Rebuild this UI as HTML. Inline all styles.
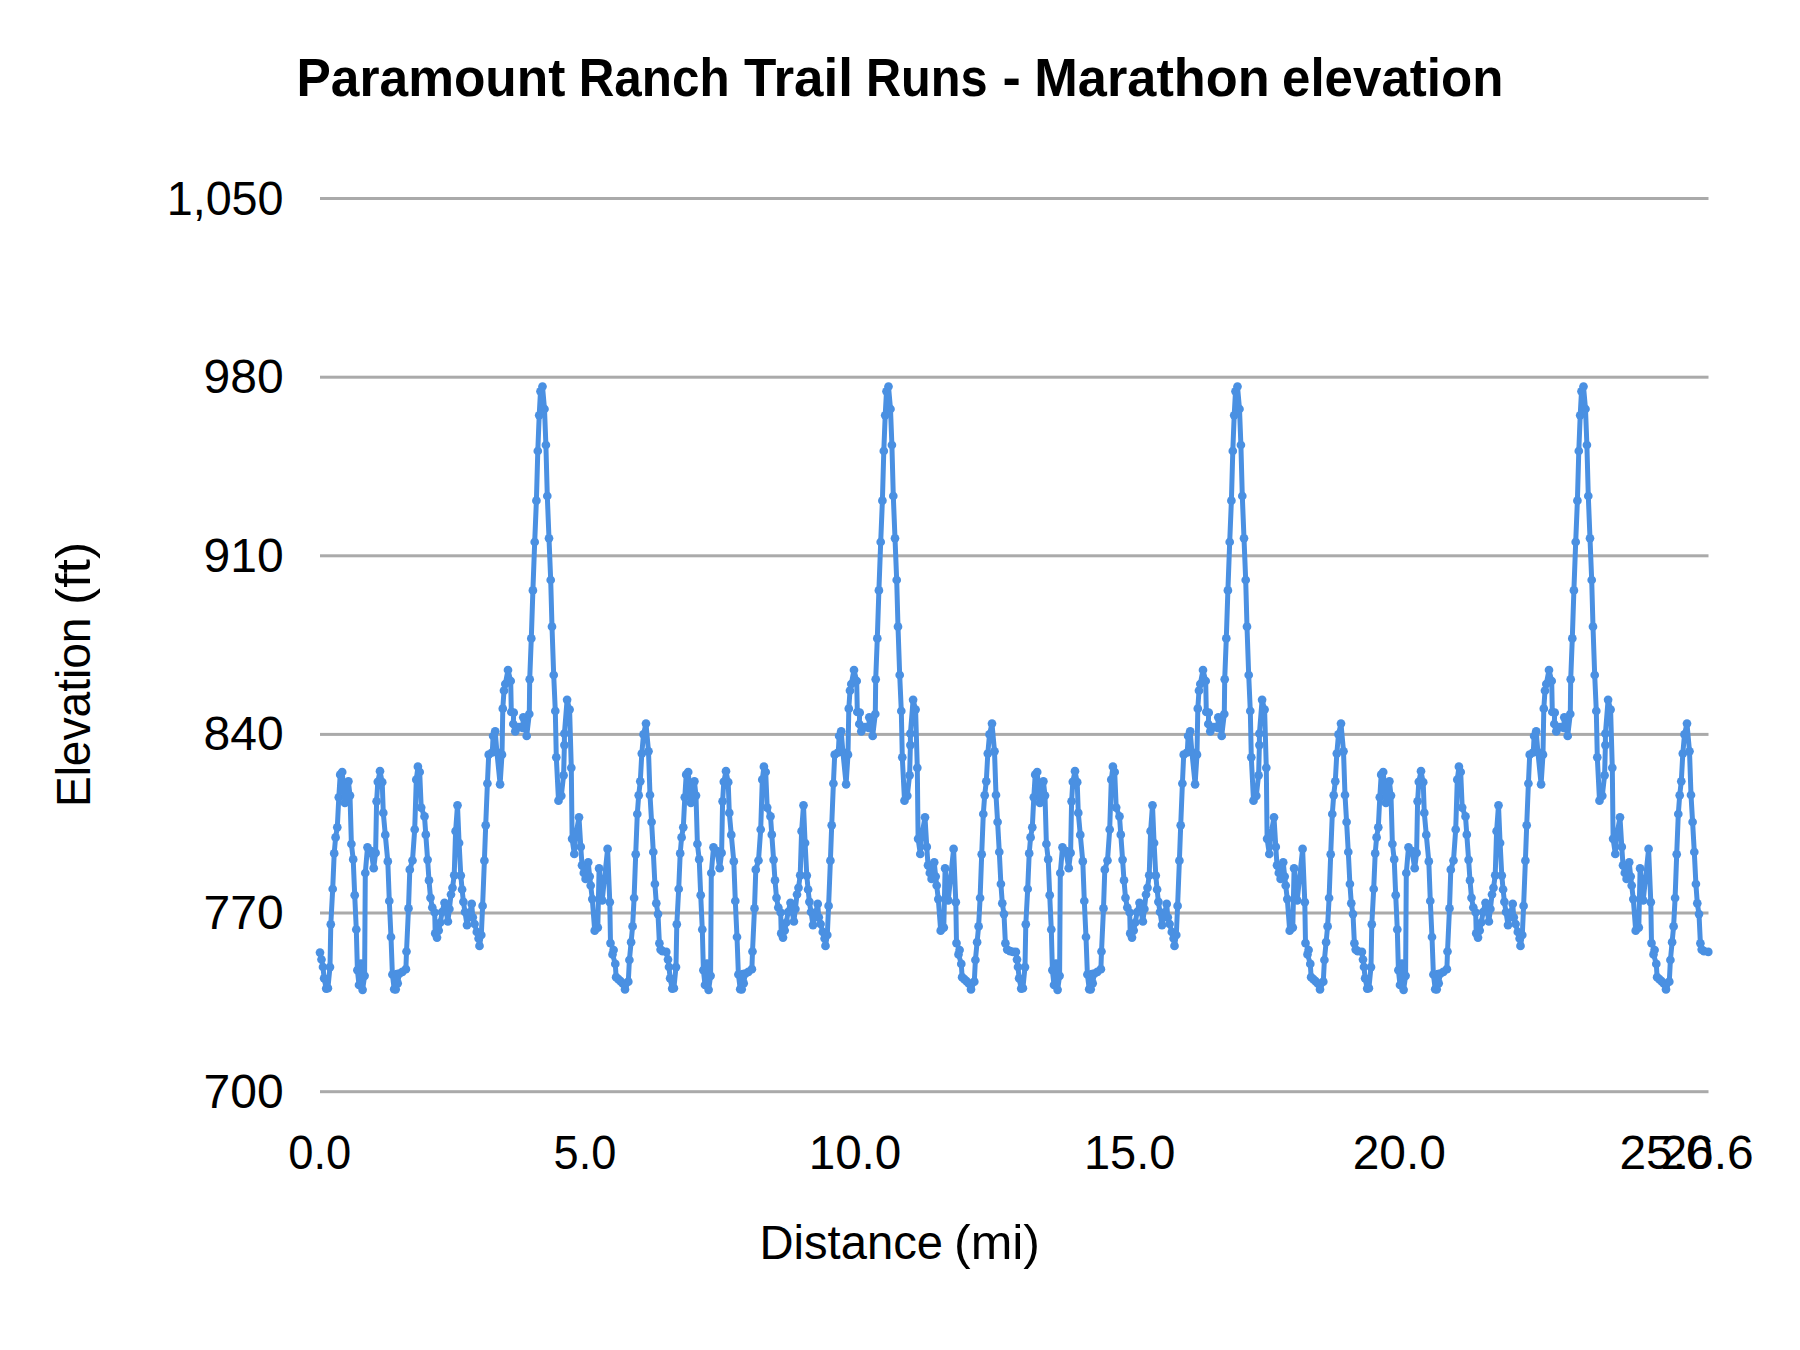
<!DOCTYPE html>
<html><head><meta charset="utf-8"><title>Paramount Ranch Trail Runs - Marathon elevation</title>
<style>
html,body{margin:0;padding:0;background:#fff;}
svg{display:block;}
text{font-family:"Liberation Sans",sans-serif;fill:#000;}
.title{font-weight:bold;font-size:54px;}
.yl,.xl,.ax{font-size:48px;}
</style></head><body>
<svg width="1800" height="1350" viewBox="0 0 1800 1350">
<rect width="1800" height="1350" fill="#fff"/>
<text class="title" y="96"><tspan x="296.5" textLength="268.9" lengthAdjust="spacingAndGlyphs">Paramount</tspan> <tspan x="578.7" textLength="150.9" lengthAdjust="spacingAndGlyphs">Ranch</tspan> <tspan x="744.0" textLength="109.0" lengthAdjust="spacingAndGlyphs">Trail</tspan> <tspan x="865.9" textLength="121.7" lengthAdjust="spacingAndGlyphs">Runs</tspan> <tspan x="1002.5" textLength="18.3" lengthAdjust="spacingAndGlyphs">-</tspan> <tspan x="1034.3" textLength="235.4" lengthAdjust="spacingAndGlyphs">Marathon</tspan> <tspan x="1282.0" textLength="221.4" lengthAdjust="spacingAndGlyphs">elevation</tspan></text>
<rect x="320" y="197.0" width="1388.5" height="3" fill="#aaaaaa"/><rect x="320" y="375.7" width="1388.5" height="3" fill="#aaaaaa"/><rect x="320" y="554.3" width="1388.5" height="3" fill="#aaaaaa"/><rect x="320" y="732.9" width="1388.5" height="3" fill="#aaaaaa"/><rect x="320" y="911.5" width="1388.5" height="3" fill="#aaaaaa"/><rect x="320" y="1090.2" width="1388.5" height="3" fill="#aaaaaa"/>
<text class="yl" x="283.6" y="214.5" text-anchor="end" textLength="116.9" lengthAdjust="spacingAndGlyphs">1,050</text><text class="yl" x="283.6" y="393.2" text-anchor="end">980</text><text class="yl" x="283.6" y="571.8" text-anchor="end">910</text><text class="yl" x="283.6" y="750.4" text-anchor="end">840</text><text class="yl" x="283.6" y="929.0" text-anchor="end">770</text><text class="yl" x="283.6" y="1107.7" text-anchor="end">700</text>
<text class="xl" x="319.8" y="1169" text-anchor="middle" textLength="63.0" lengthAdjust="spacingAndGlyphs">0.0</text><text class="xl" x="585.0" y="1169" text-anchor="middle" textLength="62.8" lengthAdjust="spacingAndGlyphs">5.0</text><text class="xl" x="855.0" y="1169" text-anchor="middle" textLength="92.7" lengthAdjust="spacingAndGlyphs">10.0</text><text class="xl" x="1129.6" y="1169" text-anchor="middle" textLength="91.4" lengthAdjust="spacingAndGlyphs">15.0</text><text class="xl" x="1399.3" y="1169" text-anchor="middle" textLength="93.2" lengthAdjust="spacingAndGlyphs">20.0</text><text class="xl" x="1666" y="1169" text-anchor="middle" textLength="93.2" lengthAdjust="spacingAndGlyphs">25.0</text><text class="xl" x="1707" y="1169" text-anchor="middle" textLength="93.2" lengthAdjust="spacingAndGlyphs">26.6</text>
<text class="ax" y="1259"><tspan x="759.5" textLength="183.5" lengthAdjust="spacingAndGlyphs">Distance</tspan> <tspan x="954" textLength="86" lengthAdjust="spacingAndGlyphs">(mi)</tspan></text>
<text class="ax" transform="translate(90,674.4) rotate(-90)"><tspan x="-132.7" textLength="189.5" lengthAdjust="spacingAndGlyphs">Elevation</tspan> <tspan x="69.5" textLength="63" lengthAdjust="spacingAndGlyphs">(ft)</tspan></text>
<g fill="#4a90e2"><circle cx="320.0" cy="952.6" r="4.35"/><circle cx="321.5" cy="959.5" r="4.35"/><circle cx="323.0" cy="967.0" r="4.35"/><circle cx="324.1" cy="978.3" r="4.35"/><circle cx="326.2" cy="988.6" r="4.35"/><circle cx="327.9" cy="988.2" r="4.35"/><circle cx="330.0" cy="967.1" r="4.35"/><circle cx="330.8" cy="924.3" r="4.35"/><circle cx="332.7" cy="889.0" r="4.35"/><circle cx="334.2" cy="853.4" r="4.35"/><circle cx="335.6" cy="837.4" r="4.35"/><circle cx="337.3" cy="827.3" r="4.35"/><circle cx="338.8" cy="797.3" r="4.35"/><circle cx="340.2" cy="774.7" r="4.35"/><circle cx="342.2" cy="772.0" r="4.35"/><circle cx="344.9" cy="803.0" r="4.35"/><circle cx="348.4" cy="781.3" r="4.35"/><circle cx="350.0" cy="795.6" r="4.35"/><circle cx="351.4" cy="844.0" r="4.35"/><circle cx="353.2" cy="859.4" r="4.35"/><circle cx="354.7" cy="895.2" r="4.35"/><circle cx="356.3" cy="929.5" r="4.35"/><circle cx="357.4" cy="970.2" r="4.35"/><circle cx="359.0" cy="985.0" r="4.35"/><circle cx="361.0" cy="963.5" r="4.35"/><circle cx="362.6" cy="989.8" r="4.35"/><circle cx="364.6" cy="975.8" r="4.35"/><circle cx="365.3" cy="873.0" r="4.35"/><circle cx="367.5" cy="847.3" r="4.35"/><circle cx="371.0" cy="851.0" r="4.35"/><circle cx="373.7" cy="868.2" r="4.35"/><circle cx="375.6" cy="852.9" r="4.35"/><circle cx="376.6" cy="801.3" r="4.35"/><circle cx="377.8" cy="781.8" r="4.35"/><circle cx="380.0" cy="771.2" r="4.35"/><circle cx="382.2" cy="782.2" r="4.35"/><circle cx="383.3" cy="812.9" r="4.35"/><circle cx="385.3" cy="834.9" r="4.35"/><circle cx="387.8" cy="861.4" r="4.35"/><circle cx="389.3" cy="901.0" r="4.35"/><circle cx="391.0" cy="937.0" r="4.35"/><circle cx="392.4" cy="974.5" r="4.35"/><circle cx="394.2" cy="989.2" r="4.35"/><circle cx="395.7" cy="989.3" r="4.35"/><circle cx="396.8" cy="974.1" r="4.35"/><circle cx="397.7" cy="983.3" r="4.35"/><circle cx="399.3" cy="973.7" r="4.35"/><circle cx="402.4" cy="971.8" r="4.35"/><circle cx="405.9" cy="969.2" r="4.35"/><circle cx="406.5" cy="951.5" r="4.35"/><circle cx="408.5" cy="908.4" r="4.35"/><circle cx="409.8" cy="869.7" r="4.35"/><circle cx="412.5" cy="860.5" r="4.35"/><circle cx="414.7" cy="829.5" r="4.35"/><circle cx="416.3" cy="779.7" r="4.35"/><circle cx="417.9" cy="766.7" r="4.35"/><circle cx="419.7" cy="772.0" r="4.35"/><circle cx="421.2" cy="807.6" r="4.35"/><circle cx="424.5" cy="816.4" r="4.35"/><circle cx="425.8" cy="834.7" r="4.35"/><circle cx="427.6" cy="859.8" r="4.35"/><circle cx="429.0" cy="880.4" r="4.35"/><circle cx="430.5" cy="897.8" r="4.35"/><circle cx="432.3" cy="907.5" r="4.35"/><circle cx="434.7" cy="912.5" r="4.35"/><circle cx="435.2" cy="933.4" r="4.35"/><circle cx="437.0" cy="937.6" r="4.35"/><circle cx="438.7" cy="930.5" r="4.35"/><circle cx="440.3" cy="922.5" r="4.35"/><circle cx="442.1" cy="912.0" r="4.35"/><circle cx="444.5" cy="902.8" r="4.35"/><circle cx="447.9" cy="921.5" r="4.35"/><circle cx="449.4" cy="909.0" r="4.35"/><circle cx="451.0" cy="894.5" r="4.35"/><circle cx="452.5" cy="887.8" r="4.35"/><circle cx="454.2" cy="875.3" r="4.35"/><circle cx="455.6" cy="831.2" r="4.35"/><circle cx="457.5" cy="805.3" r="4.35"/><circle cx="459.1" cy="843.0" r="4.35"/><circle cx="460.8" cy="875.6" r="4.35"/><circle cx="462.1" cy="889.5" r="4.35"/><circle cx="463.4" cy="901.8" r="4.35"/><circle cx="465.0" cy="912.0" r="4.35"/><circle cx="467.0" cy="925.1" r="4.35"/><circle cx="471.7" cy="903.9" r="4.35"/><circle cx="472.8" cy="917.3" r="4.35"/><circle cx="474.6" cy="924.0" r="4.35"/><circle cx="476.8" cy="932.0" r="4.35"/><circle cx="478.6" cy="938.5" r="4.35"/><circle cx="479.5" cy="945.9" r="4.35"/><circle cx="481.3" cy="935.0" r="4.35"/><circle cx="482.6" cy="905.9" r="4.35"/><circle cx="484.4" cy="860.7" r="4.35"/><circle cx="485.7" cy="825.3" r="4.35"/><circle cx="487.4" cy="783.5" r="4.35"/><circle cx="488.7" cy="754.7" r="4.35"/><circle cx="492.3" cy="752.3" r="4.35"/><circle cx="493.1" cy="736.0" r="4.35"/><circle cx="495.2" cy="731.3" r="4.35"/><circle cx="496.9" cy="752.0" r="4.35"/><circle cx="500.1" cy="784.3" r="4.35"/><circle cx="502.0" cy="754.7" r="4.35"/><circle cx="502.8" cy="708.7" r="4.35"/><circle cx="504.0" cy="690.7" r="4.35"/><circle cx="505.3" cy="684.0" r="4.35"/><circle cx="508.0" cy="670.0" r="4.35"/><circle cx="510.7" cy="681.0" r="4.35"/><circle cx="511.3" cy="712.0" r="4.35"/><circle cx="513.7" cy="712.7" r="4.35"/><circle cx="513.3" cy="724.0" r="4.35"/><circle cx="515.3" cy="731.3" r="4.35"/><circle cx="519.0" cy="727.0" r="4.35"/><circle cx="522.7" cy="728.0" r="4.35"/><circle cx="523.3" cy="717.3" r="4.35"/><circle cx="526.7" cy="736.0" r="4.35"/><circle cx="529.3" cy="714.0" r="4.35"/><circle cx="529.7" cy="679.3" r="4.35"/><circle cx="531.3" cy="638.4" r="4.35"/><circle cx="532.9" cy="590.4" r="4.35"/><circle cx="534.7" cy="542.0" r="4.35"/><circle cx="536.4" cy="500.7" r="4.35"/><circle cx="537.8" cy="451.0" r="4.35"/><circle cx="539.2" cy="415.3" r="4.35"/><circle cx="540.5" cy="391.3" r="4.35"/><circle cx="542.5" cy="386.5" r="4.35"/><circle cx="544.5" cy="409.0" r="4.35"/><circle cx="545.9" cy="445.0" r="4.35"/><circle cx="547.3" cy="496.0" r="4.35"/><circle cx="549.0" cy="538.3" r="4.35"/><circle cx="550.7" cy="580.0" r="4.35"/><circle cx="552.0" cy="626.7" r="4.35"/><circle cx="553.7" cy="675.0" r="4.35"/><circle cx="555.3" cy="711.0" r="4.35"/><circle cx="556.3" cy="757.3" r="4.35"/><circle cx="558.5" cy="800.7" r="4.35"/><circle cx="561.3" cy="795.8" r="4.35"/><circle cx="563.6" cy="775.3" r="4.35"/><circle cx="564.4" cy="745.1" r="4.35"/><circle cx="564.4" cy="733.6" r="4.35"/><circle cx="567.1" cy="699.8" r="4.35"/><circle cx="569.6" cy="709.6" r="4.35"/><circle cx="571.3" cy="767.8" r="4.35"/><circle cx="572.1" cy="838.8" r="4.35"/><circle cx="574.3" cy="854.0" r="4.35"/><circle cx="575.7" cy="836.0" r="4.35"/><circle cx="579.0" cy="817.3" r="4.35"/><circle cx="580.8" cy="846.9" r="4.35"/><circle cx="582.0" cy="865.3" r="4.35"/><circle cx="583.8" cy="873.0" r="4.35"/><circle cx="585.6" cy="878.9" r="4.35"/><circle cx="588.2" cy="862.3" r="4.35"/><circle cx="589.7" cy="876.5" r="4.35"/><circle cx="590.7" cy="885.5" r="4.35"/><circle cx="592.3" cy="899.1" r="4.35"/><circle cx="594.7" cy="930.7" r="4.35"/><circle cx="597.8" cy="927.6" r="4.35"/><circle cx="599.1" cy="868.4" r="4.35"/><circle cx="602.2" cy="900.4" r="4.35"/><circle cx="607.6" cy="848.9" r="4.35"/><circle cx="609.8" cy="902.2" r="4.35"/><circle cx="610.5" cy="943.1" r="4.35"/><circle cx="613.6" cy="950.0" r="4.35"/><circle cx="612.5" cy="954.4" r="4.35"/><circle cx="615.3" cy="963.9" r="4.35"/><circle cx="616.1" cy="977.2" r="4.35"/><circle cx="618.3" cy="979.2" r="4.35"/><circle cx="620.5" cy="981.2" r="4.35"/><circle cx="622.7" cy="983.4" r="4.35"/><circle cx="625.0" cy="989.4" r="4.35"/><circle cx="628.3" cy="981.7" r="4.35"/><circle cx="629.4" cy="960.0" r="4.35"/><circle cx="631.1" cy="942.2" r="4.35"/><circle cx="632.6" cy="926.4" r="4.35"/><circle cx="634.1" cy="898.0" r="4.35"/><circle cx="635.7" cy="854.3" r="4.35"/><circle cx="637.3" cy="814.0" r="4.35"/><circle cx="638.7" cy="795.3" r="4.35"/><circle cx="640.3" cy="781.3" r="4.35"/><circle cx="641.8" cy="753.6" r="4.35"/><circle cx="643.5" cy="734.4" r="4.35"/><circle cx="646.0" cy="723.6" r="4.35"/><circle cx="648.5" cy="751.3" r="4.35"/><circle cx="650.0" cy="795.0" r="4.35"/><circle cx="651.6" cy="822.0" r="4.35"/><circle cx="653.3" cy="852.0" r="4.35"/><circle cx="654.9" cy="884.0" r="4.35"/><circle cx="656.3" cy="903.3" r="4.35"/><circle cx="658.0" cy="914.1" r="4.35"/><circle cx="659.4" cy="943.3" r="4.35"/><circle cx="660.6" cy="949.6" r="4.35"/><circle cx="662.5" cy="951.2" r="4.35"/><circle cx="666.3" cy="951.9" r="4.35"/><circle cx="668.0" cy="959.6" r="4.35"/><circle cx="669.0" cy="967.0" r="4.35"/><circle cx="670.1" cy="978.3" r="4.35"/><circle cx="672.2" cy="988.6" r="4.35"/><circle cx="673.9" cy="988.2" r="4.35"/><circle cx="676.0" cy="967.1" r="4.35"/><circle cx="676.8" cy="924.3" r="4.35"/><circle cx="678.7" cy="889.0" r="4.35"/><circle cx="680.2" cy="853.4" r="4.35"/><circle cx="681.6" cy="837.4" r="4.35"/><circle cx="683.3" cy="827.3" r="4.35"/><circle cx="684.8" cy="797.3" r="4.35"/><circle cx="686.2" cy="774.7" r="4.35"/><circle cx="688.2" cy="772.0" r="4.35"/><circle cx="690.9" cy="803.0" r="4.35"/><circle cx="694.4" cy="781.3" r="4.35"/><circle cx="696.0" cy="795.6" r="4.35"/><circle cx="697.4" cy="844.0" r="4.35"/><circle cx="699.2" cy="859.4" r="4.35"/><circle cx="700.7" cy="895.2" r="4.35"/><circle cx="702.3" cy="929.5" r="4.35"/><circle cx="703.4" cy="970.2" r="4.35"/><circle cx="705.0" cy="985.0" r="4.35"/><circle cx="707.0" cy="963.5" r="4.35"/><circle cx="708.6" cy="989.8" r="4.35"/><circle cx="710.6" cy="975.8" r="4.35"/><circle cx="711.3" cy="873.0" r="4.35"/><circle cx="713.5" cy="847.3" r="4.35"/><circle cx="717.0" cy="851.0" r="4.35"/><circle cx="719.7" cy="868.2" r="4.35"/><circle cx="721.6" cy="852.9" r="4.35"/><circle cx="722.6" cy="801.3" r="4.35"/><circle cx="723.8" cy="781.8" r="4.35"/><circle cx="726.0" cy="771.2" r="4.35"/><circle cx="728.2" cy="782.2" r="4.35"/><circle cx="729.3" cy="812.9" r="4.35"/><circle cx="731.3" cy="834.9" r="4.35"/><circle cx="733.8" cy="861.4" r="4.35"/><circle cx="735.3" cy="901.0" r="4.35"/><circle cx="737.0" cy="937.0" r="4.35"/><circle cx="738.4" cy="974.5" r="4.35"/><circle cx="740.2" cy="989.2" r="4.35"/><circle cx="741.7" cy="989.3" r="4.35"/><circle cx="742.8" cy="974.1" r="4.35"/><circle cx="743.7" cy="983.3" r="4.35"/><circle cx="745.3" cy="973.7" r="4.35"/><circle cx="748.4" cy="971.8" r="4.35"/><circle cx="751.9" cy="969.2" r="4.35"/><circle cx="752.5" cy="951.5" r="4.35"/><circle cx="754.5" cy="908.4" r="4.35"/><circle cx="755.8" cy="869.7" r="4.35"/><circle cx="758.5" cy="860.5" r="4.35"/><circle cx="760.7" cy="829.5" r="4.35"/><circle cx="762.3" cy="779.7" r="4.35"/><circle cx="763.9" cy="766.7" r="4.35"/><circle cx="765.7" cy="772.0" r="4.35"/><circle cx="767.2" cy="807.6" r="4.35"/><circle cx="770.5" cy="816.4" r="4.35"/><circle cx="771.8" cy="834.7" r="4.35"/><circle cx="773.6" cy="859.8" r="4.35"/><circle cx="775.0" cy="880.4" r="4.35"/><circle cx="776.5" cy="897.8" r="4.35"/><circle cx="778.3" cy="907.5" r="4.35"/><circle cx="780.7" cy="912.5" r="4.35"/><circle cx="781.2" cy="933.4" r="4.35"/><circle cx="783.0" cy="937.6" r="4.35"/><circle cx="784.7" cy="930.5" r="4.35"/><circle cx="786.3" cy="922.5" r="4.35"/><circle cx="788.1" cy="912.0" r="4.35"/><circle cx="790.5" cy="902.8" r="4.35"/><circle cx="793.9" cy="921.5" r="4.35"/><circle cx="795.4" cy="909.0" r="4.35"/><circle cx="797.0" cy="894.5" r="4.35"/><circle cx="798.5" cy="887.8" r="4.35"/><circle cx="800.2" cy="875.3" r="4.35"/><circle cx="801.6" cy="831.2" r="4.35"/><circle cx="803.5" cy="805.3" r="4.35"/><circle cx="805.1" cy="843.0" r="4.35"/><circle cx="806.8" cy="875.6" r="4.35"/><circle cx="808.1" cy="889.5" r="4.35"/><circle cx="809.4" cy="901.8" r="4.35"/><circle cx="811.0" cy="912.0" r="4.35"/><circle cx="813.0" cy="925.1" r="4.35"/><circle cx="817.7" cy="903.9" r="4.35"/><circle cx="818.8" cy="917.3" r="4.35"/><circle cx="820.6" cy="924.0" r="4.35"/><circle cx="822.8" cy="932.0" r="4.35"/><circle cx="824.6" cy="938.5" r="4.35"/><circle cx="825.5" cy="945.9" r="4.35"/><circle cx="827.3" cy="935.0" r="4.35"/><circle cx="828.6" cy="905.9" r="4.35"/><circle cx="830.4" cy="860.7" r="4.35"/><circle cx="831.7" cy="825.3" r="4.35"/><circle cx="833.4" cy="783.5" r="4.35"/><circle cx="834.7" cy="754.7" r="4.35"/><circle cx="838.3" cy="752.3" r="4.35"/><circle cx="839.1" cy="736.0" r="4.35"/><circle cx="841.2" cy="731.3" r="4.35"/><circle cx="842.9" cy="752.0" r="4.35"/><circle cx="846.1" cy="784.3" r="4.35"/><circle cx="848.0" cy="754.7" r="4.35"/><circle cx="848.8" cy="708.7" r="4.35"/><circle cx="850.0" cy="690.7" r="4.35"/><circle cx="851.3" cy="684.0" r="4.35"/><circle cx="854.0" cy="670.0" r="4.35"/><circle cx="856.7" cy="681.0" r="4.35"/><circle cx="857.3" cy="712.0" r="4.35"/><circle cx="859.7" cy="712.7" r="4.35"/><circle cx="859.3" cy="724.0" r="4.35"/><circle cx="861.3" cy="731.3" r="4.35"/><circle cx="865.0" cy="727.0" r="4.35"/><circle cx="868.7" cy="728.0" r="4.35"/><circle cx="869.3" cy="717.3" r="4.35"/><circle cx="872.7" cy="736.0" r="4.35"/><circle cx="875.3" cy="714.0" r="4.35"/><circle cx="875.7" cy="679.3" r="4.35"/><circle cx="877.3" cy="638.4" r="4.35"/><circle cx="878.9" cy="590.4" r="4.35"/><circle cx="880.7" cy="542.0" r="4.35"/><circle cx="882.4" cy="500.7" r="4.35"/><circle cx="883.8" cy="451.0" r="4.35"/><circle cx="885.2" cy="415.3" r="4.35"/><circle cx="886.5" cy="391.3" r="4.35"/><circle cx="888.5" cy="386.5" r="4.35"/><circle cx="890.5" cy="409.0" r="4.35"/><circle cx="891.9" cy="445.0" r="4.35"/><circle cx="893.3" cy="496.0" r="4.35"/><circle cx="895.0" cy="538.3" r="4.35"/><circle cx="896.7" cy="580.0" r="4.35"/><circle cx="898.0" cy="626.7" r="4.35"/><circle cx="899.7" cy="675.0" r="4.35"/><circle cx="901.3" cy="711.0" r="4.35"/><circle cx="902.3" cy="757.3" r="4.35"/><circle cx="904.5" cy="800.7" r="4.35"/><circle cx="907.3" cy="795.8" r="4.35"/><circle cx="909.6" cy="775.3" r="4.35"/><circle cx="910.4" cy="745.1" r="4.35"/><circle cx="910.4" cy="733.6" r="4.35"/><circle cx="913.1" cy="699.8" r="4.35"/><circle cx="915.6" cy="709.6" r="4.35"/><circle cx="917.3" cy="767.8" r="4.35"/><circle cx="918.1" cy="838.8" r="4.35"/><circle cx="920.3" cy="854.0" r="4.35"/><circle cx="921.7" cy="836.0" r="4.35"/><circle cx="925.0" cy="817.3" r="4.35"/><circle cx="926.8" cy="846.9" r="4.35"/><circle cx="928.0" cy="865.3" r="4.35"/><circle cx="929.8" cy="873.0" r="4.35"/><circle cx="931.6" cy="878.9" r="4.35"/><circle cx="934.2" cy="862.3" r="4.35"/><circle cx="935.7" cy="876.5" r="4.35"/><circle cx="936.7" cy="885.5" r="4.35"/><circle cx="938.3" cy="899.1" r="4.35"/><circle cx="940.7" cy="930.7" r="4.35"/><circle cx="943.8" cy="927.6" r="4.35"/><circle cx="945.1" cy="868.4" r="4.35"/><circle cx="948.2" cy="900.4" r="4.35"/><circle cx="953.6" cy="848.9" r="4.35"/><circle cx="955.8" cy="902.2" r="4.35"/><circle cx="956.5" cy="943.1" r="4.35"/><circle cx="959.6" cy="950.0" r="4.35"/><circle cx="958.5" cy="954.4" r="4.35"/><circle cx="961.3" cy="963.9" r="4.35"/><circle cx="962.1" cy="977.2" r="4.35"/><circle cx="964.3" cy="979.2" r="4.35"/><circle cx="966.5" cy="981.2" r="4.35"/><circle cx="968.7" cy="983.4" r="4.35"/><circle cx="971.0" cy="989.4" r="4.35"/><circle cx="974.3" cy="981.7" r="4.35"/><circle cx="975.4" cy="960.0" r="4.35"/><circle cx="977.1" cy="942.2" r="4.35"/><circle cx="978.6" cy="926.4" r="4.35"/><circle cx="980.1" cy="898.0" r="4.35"/><circle cx="981.7" cy="854.3" r="4.35"/><circle cx="983.3" cy="814.0" r="4.35"/><circle cx="984.7" cy="795.3" r="4.35"/><circle cx="986.3" cy="781.3" r="4.35"/><circle cx="987.8" cy="753.6" r="4.35"/><circle cx="989.5" cy="734.4" r="4.35"/><circle cx="992.0" cy="723.6" r="4.35"/><circle cx="994.5" cy="751.3" r="4.35"/><circle cx="996.0" cy="795.0" r="4.35"/><circle cx="997.6" cy="822.0" r="4.35"/><circle cx="999.3" cy="852.0" r="4.35"/><circle cx="1000.9" cy="884.0" r="4.35"/><circle cx="1002.3" cy="903.3" r="4.35"/><circle cx="1004.0" cy="914.1" r="4.35"/><circle cx="1005.4" cy="943.3" r="4.35"/><circle cx="1007.2" cy="949.6" r="4.35"/><circle cx="1010.1" cy="951.2" r="4.35"/><circle cx="1013.0" cy="951.9" r="4.35"/><circle cx="1015.9" cy="951.9" r="4.35"/><circle cx="1017.0" cy="959.6" r="4.35"/><circle cx="1018.0" cy="967.0" r="4.35"/><circle cx="1019.1" cy="978.3" r="4.35"/><circle cx="1021.2" cy="988.6" r="4.35"/><circle cx="1022.9" cy="988.2" r="4.35"/><circle cx="1025.0" cy="967.1" r="4.35"/><circle cx="1025.8" cy="924.3" r="4.35"/><circle cx="1027.7" cy="889.0" r="4.35"/><circle cx="1029.2" cy="853.4" r="4.35"/><circle cx="1030.6" cy="837.4" r="4.35"/><circle cx="1032.3" cy="827.3" r="4.35"/><circle cx="1033.8" cy="797.3" r="4.35"/><circle cx="1035.2" cy="774.7" r="4.35"/><circle cx="1037.2" cy="772.0" r="4.35"/><circle cx="1039.9" cy="803.0" r="4.35"/><circle cx="1043.4" cy="781.3" r="4.35"/><circle cx="1045.0" cy="795.6" r="4.35"/><circle cx="1046.4" cy="844.0" r="4.35"/><circle cx="1048.2" cy="859.4" r="4.35"/><circle cx="1049.7" cy="895.2" r="4.35"/><circle cx="1051.3" cy="929.5" r="4.35"/><circle cx="1052.4" cy="970.2" r="4.35"/><circle cx="1054.0" cy="985.0" r="4.35"/><circle cx="1056.0" cy="963.5" r="4.35"/><circle cx="1057.6" cy="989.8" r="4.35"/><circle cx="1059.6" cy="975.8" r="4.35"/><circle cx="1060.3" cy="873.0" r="4.35"/><circle cx="1062.5" cy="847.3" r="4.35"/><circle cx="1066.0" cy="851.0" r="4.35"/><circle cx="1068.7" cy="868.2" r="4.35"/><circle cx="1070.6" cy="852.9" r="4.35"/><circle cx="1071.6" cy="801.3" r="4.35"/><circle cx="1072.8" cy="781.8" r="4.35"/><circle cx="1075.0" cy="771.2" r="4.35"/><circle cx="1077.2" cy="782.2" r="4.35"/><circle cx="1078.3" cy="812.9" r="4.35"/><circle cx="1080.3" cy="834.9" r="4.35"/><circle cx="1082.8" cy="861.4" r="4.35"/><circle cx="1084.3" cy="901.0" r="4.35"/><circle cx="1086.0" cy="937.0" r="4.35"/><circle cx="1087.4" cy="974.5" r="4.35"/><circle cx="1089.2" cy="989.2" r="4.35"/><circle cx="1090.7" cy="989.3" r="4.35"/><circle cx="1091.8" cy="974.1" r="4.35"/><circle cx="1092.7" cy="983.3" r="4.35"/><circle cx="1094.3" cy="973.7" r="4.35"/><circle cx="1097.4" cy="971.8" r="4.35"/><circle cx="1100.9" cy="969.2" r="4.35"/><circle cx="1101.5" cy="951.5" r="4.35"/><circle cx="1103.5" cy="908.4" r="4.35"/><circle cx="1104.8" cy="869.7" r="4.35"/><circle cx="1107.5" cy="860.5" r="4.35"/><circle cx="1109.7" cy="829.5" r="4.35"/><circle cx="1111.3" cy="779.7" r="4.35"/><circle cx="1112.9" cy="766.7" r="4.35"/><circle cx="1114.7" cy="772.0" r="4.35"/><circle cx="1116.2" cy="807.6" r="4.35"/><circle cx="1119.5" cy="816.4" r="4.35"/><circle cx="1120.8" cy="834.7" r="4.35"/><circle cx="1122.6" cy="859.8" r="4.35"/><circle cx="1124.0" cy="880.4" r="4.35"/><circle cx="1125.5" cy="897.8" r="4.35"/><circle cx="1127.3" cy="907.5" r="4.35"/><circle cx="1129.7" cy="912.5" r="4.35"/><circle cx="1130.2" cy="933.4" r="4.35"/><circle cx="1132.0" cy="937.6" r="4.35"/><circle cx="1133.7" cy="930.5" r="4.35"/><circle cx="1135.3" cy="922.5" r="4.35"/><circle cx="1137.1" cy="912.0" r="4.35"/><circle cx="1139.5" cy="902.8" r="4.35"/><circle cx="1142.9" cy="921.5" r="4.35"/><circle cx="1144.4" cy="909.0" r="4.35"/><circle cx="1146.0" cy="894.5" r="4.35"/><circle cx="1147.5" cy="887.8" r="4.35"/><circle cx="1149.2" cy="875.3" r="4.35"/><circle cx="1150.6" cy="831.2" r="4.35"/><circle cx="1152.5" cy="805.3" r="4.35"/><circle cx="1154.1" cy="843.0" r="4.35"/><circle cx="1155.8" cy="875.6" r="4.35"/><circle cx="1157.1" cy="889.5" r="4.35"/><circle cx="1158.4" cy="901.8" r="4.35"/><circle cx="1160.0" cy="912.0" r="4.35"/><circle cx="1162.0" cy="925.1" r="4.35"/><circle cx="1166.7" cy="903.9" r="4.35"/><circle cx="1167.8" cy="917.3" r="4.35"/><circle cx="1169.6" cy="924.0" r="4.35"/><circle cx="1171.8" cy="932.0" r="4.35"/><circle cx="1173.6" cy="938.5" r="4.35"/><circle cx="1174.5" cy="945.9" r="4.35"/><circle cx="1176.3" cy="935.0" r="4.35"/><circle cx="1177.6" cy="905.9" r="4.35"/><circle cx="1179.4" cy="860.7" r="4.35"/><circle cx="1180.7" cy="825.3" r="4.35"/><circle cx="1182.4" cy="783.5" r="4.35"/><circle cx="1183.7" cy="754.7" r="4.35"/><circle cx="1187.3" cy="752.3" r="4.35"/><circle cx="1188.1" cy="736.0" r="4.35"/><circle cx="1190.2" cy="731.3" r="4.35"/><circle cx="1191.9" cy="752.0" r="4.35"/><circle cx="1195.1" cy="784.3" r="4.35"/><circle cx="1197.0" cy="754.7" r="4.35"/><circle cx="1197.8" cy="708.7" r="4.35"/><circle cx="1199.0" cy="690.7" r="4.35"/><circle cx="1200.3" cy="684.0" r="4.35"/><circle cx="1203.0" cy="670.0" r="4.35"/><circle cx="1205.7" cy="681.0" r="4.35"/><circle cx="1206.3" cy="712.0" r="4.35"/><circle cx="1208.7" cy="712.7" r="4.35"/><circle cx="1208.3" cy="724.0" r="4.35"/><circle cx="1210.3" cy="731.3" r="4.35"/><circle cx="1214.0" cy="727.0" r="4.35"/><circle cx="1217.7" cy="728.0" r="4.35"/><circle cx="1218.3" cy="717.3" r="4.35"/><circle cx="1221.7" cy="736.0" r="4.35"/><circle cx="1224.3" cy="714.0" r="4.35"/><circle cx="1224.7" cy="679.3" r="4.35"/><circle cx="1226.3" cy="638.4" r="4.35"/><circle cx="1227.9" cy="590.4" r="4.35"/><circle cx="1229.7" cy="542.0" r="4.35"/><circle cx="1231.4" cy="500.7" r="4.35"/><circle cx="1232.8" cy="451.0" r="4.35"/><circle cx="1234.2" cy="415.3" r="4.35"/><circle cx="1235.5" cy="391.3" r="4.35"/><circle cx="1237.5" cy="386.5" r="4.35"/><circle cx="1239.5" cy="409.0" r="4.35"/><circle cx="1240.9" cy="445.0" r="4.35"/><circle cx="1242.3" cy="496.0" r="4.35"/><circle cx="1244.0" cy="538.3" r="4.35"/><circle cx="1245.7" cy="580.0" r="4.35"/><circle cx="1247.0" cy="626.7" r="4.35"/><circle cx="1248.7" cy="675.0" r="4.35"/><circle cx="1250.3" cy="711.0" r="4.35"/><circle cx="1251.3" cy="757.3" r="4.35"/><circle cx="1253.5" cy="800.7" r="4.35"/><circle cx="1256.3" cy="795.8" r="4.35"/><circle cx="1258.6" cy="775.3" r="4.35"/><circle cx="1259.4" cy="745.1" r="4.35"/><circle cx="1259.4" cy="733.6" r="4.35"/><circle cx="1262.1" cy="699.8" r="4.35"/><circle cx="1264.6" cy="709.6" r="4.35"/><circle cx="1266.3" cy="767.8" r="4.35"/><circle cx="1267.1" cy="838.8" r="4.35"/><circle cx="1269.3" cy="854.0" r="4.35"/><circle cx="1270.7" cy="836.0" r="4.35"/><circle cx="1274.0" cy="817.3" r="4.35"/><circle cx="1275.8" cy="846.9" r="4.35"/><circle cx="1277.0" cy="865.3" r="4.35"/><circle cx="1278.8" cy="873.0" r="4.35"/><circle cx="1280.6" cy="878.9" r="4.35"/><circle cx="1283.2" cy="862.3" r="4.35"/><circle cx="1284.7" cy="876.5" r="4.35"/><circle cx="1285.7" cy="885.5" r="4.35"/><circle cx="1287.3" cy="899.1" r="4.35"/><circle cx="1289.7" cy="930.7" r="4.35"/><circle cx="1292.8" cy="927.6" r="4.35"/><circle cx="1294.1" cy="868.4" r="4.35"/><circle cx="1297.2" cy="900.4" r="4.35"/><circle cx="1302.6" cy="848.9" r="4.35"/><circle cx="1304.8" cy="902.2" r="4.35"/><circle cx="1305.5" cy="943.1" r="4.35"/><circle cx="1308.6" cy="950.0" r="4.35"/><circle cx="1307.5" cy="954.4" r="4.35"/><circle cx="1310.3" cy="963.9" r="4.35"/><circle cx="1311.1" cy="977.2" r="4.35"/><circle cx="1313.3" cy="979.2" r="4.35"/><circle cx="1315.5" cy="981.2" r="4.35"/><circle cx="1317.7" cy="983.4" r="4.35"/><circle cx="1320.0" cy="989.4" r="4.35"/><circle cx="1323.3" cy="981.7" r="4.35"/><circle cx="1324.4" cy="960.0" r="4.35"/><circle cx="1326.1" cy="942.2" r="4.35"/><circle cx="1327.6" cy="926.4" r="4.35"/><circle cx="1329.1" cy="898.0" r="4.35"/><circle cx="1330.7" cy="854.3" r="4.35"/><circle cx="1332.3" cy="814.0" r="4.35"/><circle cx="1333.7" cy="795.3" r="4.35"/><circle cx="1335.3" cy="781.3" r="4.35"/><circle cx="1336.8" cy="753.6" r="4.35"/><circle cx="1338.5" cy="734.4" r="4.35"/><circle cx="1341.0" cy="723.6" r="4.35"/><circle cx="1343.5" cy="751.3" r="4.35"/><circle cx="1345.0" cy="795.0" r="4.35"/><circle cx="1346.6" cy="822.0" r="4.35"/><circle cx="1348.3" cy="852.0" r="4.35"/><circle cx="1349.9" cy="884.0" r="4.35"/><circle cx="1351.3" cy="903.3" r="4.35"/><circle cx="1353.0" cy="914.1" r="4.35"/><circle cx="1354.4" cy="943.3" r="4.35"/><circle cx="1355.7" cy="949.6" r="4.35"/><circle cx="1357.8" cy="951.2" r="4.35"/><circle cx="1361.9" cy="951.9" r="4.35"/><circle cx="1363.0" cy="959.6" r="4.35"/><circle cx="1364.0" cy="967.0" r="4.35"/><circle cx="1365.1" cy="978.3" r="4.35"/><circle cx="1367.2" cy="988.6" r="4.35"/><circle cx="1368.9" cy="988.2" r="4.35"/><circle cx="1371.0" cy="967.1" r="4.35"/><circle cx="1371.8" cy="924.3" r="4.35"/><circle cx="1373.7" cy="889.0" r="4.35"/><circle cx="1375.2" cy="853.4" r="4.35"/><circle cx="1376.6" cy="837.4" r="4.35"/><circle cx="1378.3" cy="827.3" r="4.35"/><circle cx="1379.8" cy="797.3" r="4.35"/><circle cx="1381.2" cy="774.7" r="4.35"/><circle cx="1383.2" cy="772.0" r="4.35"/><circle cx="1385.9" cy="803.0" r="4.35"/><circle cx="1389.4" cy="781.3" r="4.35"/><circle cx="1391.0" cy="795.6" r="4.35"/><circle cx="1392.4" cy="844.0" r="4.35"/><circle cx="1394.2" cy="859.4" r="4.35"/><circle cx="1395.7" cy="895.2" r="4.35"/><circle cx="1397.3" cy="929.5" r="4.35"/><circle cx="1398.4" cy="970.2" r="4.35"/><circle cx="1400.0" cy="985.0" r="4.35"/><circle cx="1402.0" cy="963.5" r="4.35"/><circle cx="1403.6" cy="989.8" r="4.35"/><circle cx="1405.6" cy="975.8" r="4.35"/><circle cx="1406.3" cy="873.0" r="4.35"/><circle cx="1408.5" cy="847.3" r="4.35"/><circle cx="1412.0" cy="851.0" r="4.35"/><circle cx="1414.7" cy="868.2" r="4.35"/><circle cx="1416.6" cy="852.9" r="4.35"/><circle cx="1417.6" cy="801.3" r="4.35"/><circle cx="1418.8" cy="781.8" r="4.35"/><circle cx="1421.0" cy="771.2" r="4.35"/><circle cx="1423.2" cy="782.2" r="4.35"/><circle cx="1424.3" cy="812.9" r="4.35"/><circle cx="1426.3" cy="834.9" r="4.35"/><circle cx="1428.8" cy="861.4" r="4.35"/><circle cx="1430.3" cy="901.0" r="4.35"/><circle cx="1432.0" cy="937.0" r="4.35"/><circle cx="1433.4" cy="974.5" r="4.35"/><circle cx="1435.2" cy="989.2" r="4.35"/><circle cx="1436.7" cy="989.3" r="4.35"/><circle cx="1437.8" cy="974.1" r="4.35"/><circle cx="1438.7" cy="983.3" r="4.35"/><circle cx="1440.3" cy="973.7" r="4.35"/><circle cx="1443.4" cy="971.8" r="4.35"/><circle cx="1446.9" cy="969.2" r="4.35"/><circle cx="1447.5" cy="951.5" r="4.35"/><circle cx="1449.5" cy="908.4" r="4.35"/><circle cx="1450.8" cy="869.7" r="4.35"/><circle cx="1453.5" cy="860.5" r="4.35"/><circle cx="1455.7" cy="829.5" r="4.35"/><circle cx="1457.3" cy="779.7" r="4.35"/><circle cx="1458.9" cy="766.7" r="4.35"/><circle cx="1460.7" cy="772.0" r="4.35"/><circle cx="1462.2" cy="807.6" r="4.35"/><circle cx="1465.5" cy="816.4" r="4.35"/><circle cx="1466.8" cy="834.7" r="4.35"/><circle cx="1468.6" cy="859.8" r="4.35"/><circle cx="1470.0" cy="880.4" r="4.35"/><circle cx="1471.5" cy="897.8" r="4.35"/><circle cx="1473.3" cy="907.5" r="4.35"/><circle cx="1475.7" cy="912.5" r="4.35"/><circle cx="1476.2" cy="933.4" r="4.35"/><circle cx="1478.0" cy="937.6" r="4.35"/><circle cx="1479.7" cy="930.5" r="4.35"/><circle cx="1481.3" cy="922.5" r="4.35"/><circle cx="1483.1" cy="912.0" r="4.35"/><circle cx="1485.5" cy="902.8" r="4.35"/><circle cx="1488.9" cy="921.5" r="4.35"/><circle cx="1490.4" cy="909.0" r="4.35"/><circle cx="1492.0" cy="894.5" r="4.35"/><circle cx="1493.5" cy="887.8" r="4.35"/><circle cx="1495.2" cy="875.3" r="4.35"/><circle cx="1496.6" cy="831.2" r="4.35"/><circle cx="1498.5" cy="805.3" r="4.35"/><circle cx="1500.1" cy="843.0" r="4.35"/><circle cx="1501.8" cy="875.6" r="4.35"/><circle cx="1503.1" cy="889.5" r="4.35"/><circle cx="1504.4" cy="901.8" r="4.35"/><circle cx="1506.0" cy="912.0" r="4.35"/><circle cx="1508.0" cy="925.1" r="4.35"/><circle cx="1512.7" cy="903.9" r="4.35"/><circle cx="1513.8" cy="917.3" r="4.35"/><circle cx="1515.6" cy="924.0" r="4.35"/><circle cx="1517.8" cy="932.0" r="4.35"/><circle cx="1519.6" cy="938.5" r="4.35"/><circle cx="1520.5" cy="945.9" r="4.35"/><circle cx="1522.3" cy="935.0" r="4.35"/><circle cx="1523.6" cy="905.9" r="4.35"/><circle cx="1525.4" cy="860.7" r="4.35"/><circle cx="1526.7" cy="825.3" r="4.35"/><circle cx="1528.4" cy="783.5" r="4.35"/><circle cx="1529.7" cy="754.7" r="4.35"/><circle cx="1533.3" cy="752.3" r="4.35"/><circle cx="1534.1" cy="736.0" r="4.35"/><circle cx="1536.2" cy="731.3" r="4.35"/><circle cx="1537.9" cy="752.0" r="4.35"/><circle cx="1541.1" cy="784.3" r="4.35"/><circle cx="1543.0" cy="754.7" r="4.35"/><circle cx="1543.8" cy="708.7" r="4.35"/><circle cx="1545.0" cy="690.7" r="4.35"/><circle cx="1546.3" cy="684.0" r="4.35"/><circle cx="1549.0" cy="670.0" r="4.35"/><circle cx="1551.7" cy="681.0" r="4.35"/><circle cx="1552.3" cy="712.0" r="4.35"/><circle cx="1554.7" cy="712.7" r="4.35"/><circle cx="1554.3" cy="724.0" r="4.35"/><circle cx="1556.3" cy="731.3" r="4.35"/><circle cx="1560.0" cy="727.0" r="4.35"/><circle cx="1563.7" cy="728.0" r="4.35"/><circle cx="1564.3" cy="717.3" r="4.35"/><circle cx="1567.7" cy="736.0" r="4.35"/><circle cx="1570.3" cy="714.0" r="4.35"/><circle cx="1570.7" cy="679.3" r="4.35"/><circle cx="1572.3" cy="638.4" r="4.35"/><circle cx="1573.9" cy="590.4" r="4.35"/><circle cx="1575.7" cy="542.0" r="4.35"/><circle cx="1577.4" cy="500.7" r="4.35"/><circle cx="1578.8" cy="451.0" r="4.35"/><circle cx="1580.2" cy="415.3" r="4.35"/><circle cx="1581.5" cy="391.3" r="4.35"/><circle cx="1583.5" cy="386.5" r="4.35"/><circle cx="1585.5" cy="409.0" r="4.35"/><circle cx="1586.9" cy="445.0" r="4.35"/><circle cx="1588.3" cy="496.0" r="4.35"/><circle cx="1590.0" cy="538.3" r="4.35"/><circle cx="1591.7" cy="580.0" r="4.35"/><circle cx="1593.0" cy="626.7" r="4.35"/><circle cx="1594.7" cy="675.0" r="4.35"/><circle cx="1596.3" cy="711.0" r="4.35"/><circle cx="1597.3" cy="757.3" r="4.35"/><circle cx="1599.5" cy="800.7" r="4.35"/><circle cx="1602.3" cy="795.8" r="4.35"/><circle cx="1604.6" cy="775.3" r="4.35"/><circle cx="1605.4" cy="745.1" r="4.35"/><circle cx="1605.4" cy="733.6" r="4.35"/><circle cx="1608.1" cy="699.8" r="4.35"/><circle cx="1610.6" cy="709.6" r="4.35"/><circle cx="1612.3" cy="767.8" r="4.35"/><circle cx="1613.1" cy="838.8" r="4.35"/><circle cx="1615.3" cy="854.0" r="4.35"/><circle cx="1616.7" cy="836.0" r="4.35"/><circle cx="1620.0" cy="817.3" r="4.35"/><circle cx="1621.8" cy="846.9" r="4.35"/><circle cx="1623.0" cy="865.3" r="4.35"/><circle cx="1624.8" cy="873.0" r="4.35"/><circle cx="1626.6" cy="878.9" r="4.35"/><circle cx="1629.2" cy="862.3" r="4.35"/><circle cx="1630.7" cy="876.5" r="4.35"/><circle cx="1631.7" cy="885.5" r="4.35"/><circle cx="1633.3" cy="899.1" r="4.35"/><circle cx="1635.7" cy="930.7" r="4.35"/><circle cx="1638.8" cy="927.6" r="4.35"/><circle cx="1640.1" cy="868.4" r="4.35"/><circle cx="1643.2" cy="900.4" r="4.35"/><circle cx="1648.6" cy="848.9" r="4.35"/><circle cx="1650.8" cy="902.2" r="4.35"/><circle cx="1651.5" cy="943.1" r="4.35"/><circle cx="1654.6" cy="950.0" r="4.35"/><circle cx="1653.5" cy="954.4" r="4.35"/><circle cx="1656.3" cy="963.9" r="4.35"/><circle cx="1657.1" cy="977.2" r="4.35"/><circle cx="1659.3" cy="979.2" r="4.35"/><circle cx="1661.5" cy="981.2" r="4.35"/><circle cx="1663.7" cy="983.4" r="4.35"/><circle cx="1666.0" cy="989.4" r="4.35"/><circle cx="1669.3" cy="981.7" r="4.35"/><circle cx="1670.4" cy="960.0" r="4.35"/><circle cx="1672.1" cy="942.2" r="4.35"/><circle cx="1673.6" cy="926.4" r="4.35"/><circle cx="1675.1" cy="898.0" r="4.35"/><circle cx="1676.7" cy="854.3" r="4.35"/><circle cx="1678.3" cy="814.0" r="4.35"/><circle cx="1679.7" cy="795.3" r="4.35"/><circle cx="1681.3" cy="781.3" r="4.35"/><circle cx="1682.8" cy="753.6" r="4.35"/><circle cx="1684.5" cy="734.4" r="4.35"/><circle cx="1687.0" cy="723.6" r="4.35"/><circle cx="1689.5" cy="751.3" r="4.35"/><circle cx="1691.0" cy="795.0" r="4.35"/><circle cx="1692.6" cy="822.0" r="4.35"/><circle cx="1694.3" cy="852.0" r="4.35"/><circle cx="1695.9" cy="884.0" r="4.35"/><circle cx="1697.3" cy="903.3" r="4.35"/><circle cx="1699.0" cy="914.1" r="4.35"/><circle cx="1700.4" cy="943.3" r="4.35"/><circle cx="1701.7" cy="949.6" r="4.35"/><circle cx="1704.0" cy="951.2" r="4.35"/><circle cx="1708.3" cy="951.9" r="4.35"/></g>
<polyline fill="none" stroke="#4a90e2" stroke-width="5" stroke-linejoin="round" stroke-linecap="round" points="320.0,952.6 321.5,959.5 323.0,967.0 324.1,978.3 326.2,988.6 327.9,988.2 330.0,967.1 330.8,924.3 332.7,889.0 334.2,853.4 335.6,837.4 337.3,827.3 338.8,797.3 340.2,774.7 342.2,772.0 344.9,803.0 348.4,781.3 350.0,795.6 351.4,844.0 353.2,859.4 354.7,895.2 356.3,929.5 357.4,970.2 359.0,985.0 361.0,963.5 362.6,989.8 364.6,975.8 365.3,873.0 367.5,847.3 371.0,851.0 373.7,868.2 375.6,852.9 376.6,801.3 377.8,781.8 380.0,771.2 382.2,782.2 383.3,812.9 385.3,834.9 387.8,861.4 389.3,901.0 391.0,937.0 392.4,974.5 394.2,989.2 395.7,989.3 396.8,974.1 397.7,983.3 399.3,973.7 402.4,971.8 405.9,969.2 406.5,951.5 408.5,908.4 409.8,869.7 412.5,860.5 414.7,829.5 416.3,779.7 417.9,766.7 419.7,772.0 421.2,807.6 424.5,816.4 425.8,834.7 427.6,859.8 429.0,880.4 430.5,897.8 432.3,907.5 434.7,912.5 435.2,933.4 437.0,937.6 438.7,930.5 440.3,922.5 442.1,912.0 444.5,902.8 447.9,921.5 449.4,909.0 451.0,894.5 452.5,887.8 454.2,875.3 455.6,831.2 457.5,805.3 459.1,843.0 460.8,875.6 462.1,889.5 463.4,901.8 465.0,912.0 467.0,925.1 471.7,903.9 472.8,917.3 474.6,924.0 476.8,932.0 478.6,938.5 479.5,945.9 481.3,935.0 482.6,905.9 484.4,860.7 485.7,825.3 487.4,783.5 488.7,754.7 492.3,752.3 493.1,736.0 495.2,731.3 496.9,752.0 500.1,784.3 502.0,754.7 502.8,708.7 504.0,690.7 505.3,684.0 508.0,670.0 510.7,681.0 511.3,712.0 513.7,712.7 513.3,724.0 515.3,731.3 519.0,727.0 522.7,728.0 523.3,717.3 526.7,736.0 529.3,714.0 529.7,679.3 531.3,638.4 532.9,590.4 534.7,542.0 536.4,500.7 537.8,451.0 539.2,415.3 540.5,391.3 542.5,386.5 544.5,409.0 545.9,445.0 547.3,496.0 549.0,538.3 550.7,580.0 552.0,626.7 553.7,675.0 555.3,711.0 556.3,757.3 558.5,800.7 561.3,795.8 563.6,775.3 564.4,745.1 564.4,733.6 567.1,699.8 569.6,709.6 571.3,767.8 572.1,838.8 574.3,854.0 575.7,836.0 579.0,817.3 580.8,846.9 582.0,865.3 583.8,873.0 585.6,878.9 588.2,862.3 589.7,876.5 590.7,885.5 592.3,899.1 594.7,930.7 597.8,927.6 599.1,868.4 602.2,900.4 607.6,848.9 609.8,902.2 610.5,943.1 613.6,950.0 612.5,954.4 615.3,963.9 616.1,977.2 618.3,979.2 620.5,981.2 622.7,983.4 625.0,989.4 628.3,981.7 629.4,960.0 631.1,942.2 632.6,926.4 634.1,898.0 635.7,854.3 637.3,814.0 638.7,795.3 640.3,781.3 641.8,753.6 643.5,734.4 646.0,723.6 648.5,751.3 650.0,795.0 651.6,822.0 653.3,852.0 654.9,884.0 656.3,903.3 658.0,914.1 659.4,943.3 660.6,949.6 662.5,951.2 666.3,951.9 668.0,959.6 669.0,967.0 670.1,978.3 672.2,988.6 673.9,988.2 676.0,967.1 676.8,924.3 678.7,889.0 680.2,853.4 681.6,837.4 683.3,827.3 684.8,797.3 686.2,774.7 688.2,772.0 690.9,803.0 694.4,781.3 696.0,795.6 697.4,844.0 699.2,859.4 700.7,895.2 702.3,929.5 703.4,970.2 705.0,985.0 707.0,963.5 708.6,989.8 710.6,975.8 711.3,873.0 713.5,847.3 717.0,851.0 719.7,868.2 721.6,852.9 722.6,801.3 723.8,781.8 726.0,771.2 728.2,782.2 729.3,812.9 731.3,834.9 733.8,861.4 735.3,901.0 737.0,937.0 738.4,974.5 740.2,989.2 741.7,989.3 742.8,974.1 743.7,983.3 745.3,973.7 748.4,971.8 751.9,969.2 752.5,951.5 754.5,908.4 755.8,869.7 758.5,860.5 760.7,829.5 762.3,779.7 763.9,766.7 765.7,772.0 767.2,807.6 770.5,816.4 771.8,834.7 773.6,859.8 775.0,880.4 776.5,897.8 778.3,907.5 780.7,912.5 781.2,933.4 783.0,937.6 784.7,930.5 786.3,922.5 788.1,912.0 790.5,902.8 793.9,921.5 795.4,909.0 797.0,894.5 798.5,887.8 800.2,875.3 801.6,831.2 803.5,805.3 805.1,843.0 806.8,875.6 808.1,889.5 809.4,901.8 811.0,912.0 813.0,925.1 817.7,903.9 818.8,917.3 820.6,924.0 822.8,932.0 824.6,938.5 825.5,945.9 827.3,935.0 828.6,905.9 830.4,860.7 831.7,825.3 833.4,783.5 834.7,754.7 838.3,752.3 839.1,736.0 841.2,731.3 842.9,752.0 846.1,784.3 848.0,754.7 848.8,708.7 850.0,690.7 851.3,684.0 854.0,670.0 856.7,681.0 857.3,712.0 859.7,712.7 859.3,724.0 861.3,731.3 865.0,727.0 868.7,728.0 869.3,717.3 872.7,736.0 875.3,714.0 875.7,679.3 877.3,638.4 878.9,590.4 880.7,542.0 882.4,500.7 883.8,451.0 885.2,415.3 886.5,391.3 888.5,386.5 890.5,409.0 891.9,445.0 893.3,496.0 895.0,538.3 896.7,580.0 898.0,626.7 899.7,675.0 901.3,711.0 902.3,757.3 904.5,800.7 907.3,795.8 909.6,775.3 910.4,745.1 910.4,733.6 913.1,699.8 915.6,709.6 917.3,767.8 918.1,838.8 920.3,854.0 921.7,836.0 925.0,817.3 926.8,846.9 928.0,865.3 929.8,873.0 931.6,878.9 934.2,862.3 935.7,876.5 936.7,885.5 938.3,899.1 940.7,930.7 943.8,927.6 945.1,868.4 948.2,900.4 953.6,848.9 955.8,902.2 956.5,943.1 959.6,950.0 958.5,954.4 961.3,963.9 962.1,977.2 964.3,979.2 966.5,981.2 968.7,983.4 971.0,989.4 974.3,981.7 975.4,960.0 977.1,942.2 978.6,926.4 980.1,898.0 981.7,854.3 983.3,814.0 984.7,795.3 986.3,781.3 987.8,753.6 989.5,734.4 992.0,723.6 994.5,751.3 996.0,795.0 997.6,822.0 999.3,852.0 1000.9,884.0 1002.3,903.3 1004.0,914.1 1005.4,943.3 1007.2,949.6 1010.1,951.2 1013.0,951.9 1015.9,951.9 1017.0,959.6 1018.0,967.0 1019.1,978.3 1021.2,988.6 1022.9,988.2 1025.0,967.1 1025.8,924.3 1027.7,889.0 1029.2,853.4 1030.6,837.4 1032.3,827.3 1033.8,797.3 1035.2,774.7 1037.2,772.0 1039.9,803.0 1043.4,781.3 1045.0,795.6 1046.4,844.0 1048.2,859.4 1049.7,895.2 1051.3,929.5 1052.4,970.2 1054.0,985.0 1056.0,963.5 1057.6,989.8 1059.6,975.8 1060.3,873.0 1062.5,847.3 1066.0,851.0 1068.7,868.2 1070.6,852.9 1071.6,801.3 1072.8,781.8 1075.0,771.2 1077.2,782.2 1078.3,812.9 1080.3,834.9 1082.8,861.4 1084.3,901.0 1086.0,937.0 1087.4,974.5 1089.2,989.2 1090.7,989.3 1091.8,974.1 1092.7,983.3 1094.3,973.7 1097.4,971.8 1100.9,969.2 1101.5,951.5 1103.5,908.4 1104.8,869.7 1107.5,860.5 1109.7,829.5 1111.3,779.7 1112.9,766.7 1114.7,772.0 1116.2,807.6 1119.5,816.4 1120.8,834.7 1122.6,859.8 1124.0,880.4 1125.5,897.8 1127.3,907.5 1129.7,912.5 1130.2,933.4 1132.0,937.6 1133.7,930.5 1135.3,922.5 1137.1,912.0 1139.5,902.8 1142.9,921.5 1144.4,909.0 1146.0,894.5 1147.5,887.8 1149.2,875.3 1150.6,831.2 1152.5,805.3 1154.1,843.0 1155.8,875.6 1157.1,889.5 1158.4,901.8 1160.0,912.0 1162.0,925.1 1166.7,903.9 1167.8,917.3 1169.6,924.0 1171.8,932.0 1173.6,938.5 1174.5,945.9 1176.3,935.0 1177.6,905.9 1179.4,860.7 1180.7,825.3 1182.4,783.5 1183.7,754.7 1187.3,752.3 1188.1,736.0 1190.2,731.3 1191.9,752.0 1195.1,784.3 1197.0,754.7 1197.8,708.7 1199.0,690.7 1200.3,684.0 1203.0,670.0 1205.7,681.0 1206.3,712.0 1208.7,712.7 1208.3,724.0 1210.3,731.3 1214.0,727.0 1217.7,728.0 1218.3,717.3 1221.7,736.0 1224.3,714.0 1224.7,679.3 1226.3,638.4 1227.9,590.4 1229.7,542.0 1231.4,500.7 1232.8,451.0 1234.2,415.3 1235.5,391.3 1237.5,386.5 1239.5,409.0 1240.9,445.0 1242.3,496.0 1244.0,538.3 1245.7,580.0 1247.0,626.7 1248.7,675.0 1250.3,711.0 1251.3,757.3 1253.5,800.7 1256.3,795.8 1258.6,775.3 1259.4,745.1 1259.4,733.6 1262.1,699.8 1264.6,709.6 1266.3,767.8 1267.1,838.8 1269.3,854.0 1270.7,836.0 1274.0,817.3 1275.8,846.9 1277.0,865.3 1278.8,873.0 1280.6,878.9 1283.2,862.3 1284.7,876.5 1285.7,885.5 1287.3,899.1 1289.7,930.7 1292.8,927.6 1294.1,868.4 1297.2,900.4 1302.6,848.9 1304.8,902.2 1305.5,943.1 1308.6,950.0 1307.5,954.4 1310.3,963.9 1311.1,977.2 1313.3,979.2 1315.5,981.2 1317.7,983.4 1320.0,989.4 1323.3,981.7 1324.4,960.0 1326.1,942.2 1327.6,926.4 1329.1,898.0 1330.7,854.3 1332.3,814.0 1333.7,795.3 1335.3,781.3 1336.8,753.6 1338.5,734.4 1341.0,723.6 1343.5,751.3 1345.0,795.0 1346.6,822.0 1348.3,852.0 1349.9,884.0 1351.3,903.3 1353.0,914.1 1354.4,943.3 1355.7,949.6 1357.8,951.2 1361.9,951.9 1363.0,959.6 1364.0,967.0 1365.1,978.3 1367.2,988.6 1368.9,988.2 1371.0,967.1 1371.8,924.3 1373.7,889.0 1375.2,853.4 1376.6,837.4 1378.3,827.3 1379.8,797.3 1381.2,774.7 1383.2,772.0 1385.9,803.0 1389.4,781.3 1391.0,795.6 1392.4,844.0 1394.2,859.4 1395.7,895.2 1397.3,929.5 1398.4,970.2 1400.0,985.0 1402.0,963.5 1403.6,989.8 1405.6,975.8 1406.3,873.0 1408.5,847.3 1412.0,851.0 1414.7,868.2 1416.6,852.9 1417.6,801.3 1418.8,781.8 1421.0,771.2 1423.2,782.2 1424.3,812.9 1426.3,834.9 1428.8,861.4 1430.3,901.0 1432.0,937.0 1433.4,974.5 1435.2,989.2 1436.7,989.3 1437.8,974.1 1438.7,983.3 1440.3,973.7 1443.4,971.8 1446.9,969.2 1447.5,951.5 1449.5,908.4 1450.8,869.7 1453.5,860.5 1455.7,829.5 1457.3,779.7 1458.9,766.7 1460.7,772.0 1462.2,807.6 1465.5,816.4 1466.8,834.7 1468.6,859.8 1470.0,880.4 1471.5,897.8 1473.3,907.5 1475.7,912.5 1476.2,933.4 1478.0,937.6 1479.7,930.5 1481.3,922.5 1483.1,912.0 1485.5,902.8 1488.9,921.5 1490.4,909.0 1492.0,894.5 1493.5,887.8 1495.2,875.3 1496.6,831.2 1498.5,805.3 1500.1,843.0 1501.8,875.6 1503.1,889.5 1504.4,901.8 1506.0,912.0 1508.0,925.1 1512.7,903.9 1513.8,917.3 1515.6,924.0 1517.8,932.0 1519.6,938.5 1520.5,945.9 1522.3,935.0 1523.6,905.9 1525.4,860.7 1526.7,825.3 1528.4,783.5 1529.7,754.7 1533.3,752.3 1534.1,736.0 1536.2,731.3 1537.9,752.0 1541.1,784.3 1543.0,754.7 1543.8,708.7 1545.0,690.7 1546.3,684.0 1549.0,670.0 1551.7,681.0 1552.3,712.0 1554.7,712.7 1554.3,724.0 1556.3,731.3 1560.0,727.0 1563.7,728.0 1564.3,717.3 1567.7,736.0 1570.3,714.0 1570.7,679.3 1572.3,638.4 1573.9,590.4 1575.7,542.0 1577.4,500.7 1578.8,451.0 1580.2,415.3 1581.5,391.3 1583.5,386.5 1585.5,409.0 1586.9,445.0 1588.3,496.0 1590.0,538.3 1591.7,580.0 1593.0,626.7 1594.7,675.0 1596.3,711.0 1597.3,757.3 1599.5,800.7 1602.3,795.8 1604.6,775.3 1605.4,745.1 1605.4,733.6 1608.1,699.8 1610.6,709.6 1612.3,767.8 1613.1,838.8 1615.3,854.0 1616.7,836.0 1620.0,817.3 1621.8,846.9 1623.0,865.3 1624.8,873.0 1626.6,878.9 1629.2,862.3 1630.7,876.5 1631.7,885.5 1633.3,899.1 1635.7,930.7 1638.8,927.6 1640.1,868.4 1643.2,900.4 1648.6,848.9 1650.8,902.2 1651.5,943.1 1654.6,950.0 1653.5,954.4 1656.3,963.9 1657.1,977.2 1659.3,979.2 1661.5,981.2 1663.7,983.4 1666.0,989.4 1669.3,981.7 1670.4,960.0 1672.1,942.2 1673.6,926.4 1675.1,898.0 1676.7,854.3 1678.3,814.0 1679.7,795.3 1681.3,781.3 1682.8,753.6 1684.5,734.4 1687.0,723.6 1689.5,751.3 1691.0,795.0 1692.6,822.0 1694.3,852.0 1695.9,884.0 1697.3,903.3 1699.0,914.1 1700.4,943.3 1701.7,949.6 1704.0,951.2 1708.3,951.9"/>
</svg>
</body></html>
